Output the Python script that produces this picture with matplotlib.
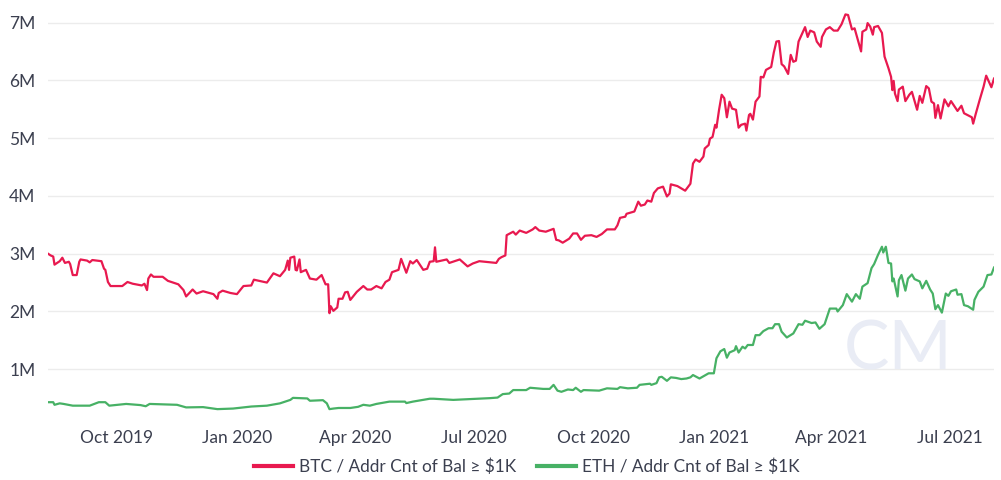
import numpy as np
import pandas as pd
import matplotlib
matplotlib.use("Agg")
import matplotlib.pyplot as plt

plt.rcParams['font.family'] = ['Lato', 'DejaVu Sans']

start = pd.Timestamp("2019-08-09")

# days since start, values in millions
btc_days = [0,2,4,5,9,11,13,16,17,19,22,24,25,30,32,34,41,43,44,46,48,51,57,61,65,72,74,76,77,79,81,88,92,100,104,106,111,114,119,127,130,131,134,140,145,150,156,158,164,168,173,178,182,184,185,186,189,190,191,193,194,198,201,206,210,213,215,216,217,219,222,223,226,228,230,232,237,242,245,248,252,256,259,262,264,269,271,275,278,280,283,288,291,293,296,297,298,306,308,316,322,326,331,344,
            346,348,351,352,357,359,362,367,372,374,377,382,388,390,392,395,400,403,406,409,412,417,421,425,429,435,437,439,443,444,450,453,455,458,460,463,465,468,472,475,477,478,483,
            489,493,495,497,500,503,504,507,508,510,512,513,515,517,519,521,523,525,528,530,532,535,536,538,539,541,543,546,547,549,551,555,557,559,561,563,565,568,570,572,574,576,581,583,585,588,590,593,594,597,600,603,606,609,612,614,617,619,624,625,628,629,631,633,634,637,640,642,645,647,648,649,650,652,653,656,658,661,663,667,669,671,674,676,678,680,681,683,685,688,691,693,698,701,703,709,710,712,715,718,720,724,726]
btc_vals = [3.00,2.97,2.95,2.81,2.87,2.93,2.84,2.86,2.82,2.63,2.63,2.86,2.90,2.88,2.85,2.89,2.87,2.74,2.72,2.51,2.44,2.44,2.44,2.51,2.48,2.45,2.48,2.37,2.57,2.64,2.60,2.60,2.53,2.47,2.37,2.26,2.38,2.31,2.35,2.30,2.22,2.32,2.36,2.32,2.30,2.44,2.45,2.55,2.52,2.50,2.66,2.61,2.72,2.88,2.72,2.93,2.95,2.72,2.71,2.90,2.68,2.72,2.57,2.55,2.63,2.47,2.47,1.97,2.09,2.01,2.07,2.22,2.22,2.33,2.34,2.20,2.34,2.44,2.38,2.38,2.44,2.40,2.51,2.55,2.68,2.72,2.91,2.67,2.87,2.83,2.89,2.72,2.74,2.86,2.87,3.11,2.86,2.90,2.84,2.90,2.78,2.83,2.87,2.84,
            2.91,2.94,2.97,3.32,3.38,3.33,3.40,3.36,3.42,3.46,3.40,3.38,3.43,3.24,3.23,3.19,3.26,3.35,3.35,3.24,3.31,3.32,3.29,3.34,3.42,3.42,3.49,3.62,3.64,3.69,3.73,3.90,3.83,3.85,3.92,3.90,4.05,4.13,4.16,3.99,4.04,4.20,4.17,
            4.09,4.21,4.56,4.63,4.59,4.68,4.82,4.88,4.99,5.02,5.23,5.18,5.49,5.75,5.69,5.36,5.63,5.51,5.49,5.18,5.23,5.25,5.13,5.40,5.42,5.32,5.63,5.72,6.06,6.05,6.18,6.23,6.48,6.67,6.68,6.28,6.24,6.11,6.44,6.32,6.34,6.67,6.92,6.75,6.86,6.83,6.67,6.58,6.75,6.88,6.92,6.86,6.86,6.97,7.14,7.13,6.88,6.90,6.50,6.84,6.88,6.99,6.93,6.79,6.92,6.94,6.82,6.41,6.21,6.06,5.83,5.99,5.77,5.64,5.84,5.89,5.64,5.75,5.80,5.49,5.73,5.61,5.90,5.86,5.63,5.60,5.35,5.57,5.34,5.67,5.55,5.64,5.47,5.56,5.43,5.36,5.25,5.42,5.66,5.89,6.08,5.88,6.03]

eth_days = [0,4,5,9,12,19,32,39,44,47,60,71,75,78,99,106,119,130,142,156,168,178,186,188,199,201,211,214,216,219,223,232,238,242,247,252,262,274,275,280,293,296,311,339,345,349,354,357,367,370,380,385,388,391,394,399,403,405,409,411,423,429,437,439,445,452,454,462,463,467,469,471,475,478,482,486,490,
            493,495,500,507,511,513,516,519,521,523,527,528,530,533,535,537,541,543,546,549,553,556,558,561,563,567,572,576,579,581,586,589,592,596,600,605,606,610,613,617,620,623,625,629,632,634,637,640,641,643,645,647,648,649,652,653,655,658,660,663,665,669,671,674,677,679,681,683,686,689,691,693,697,698,701,703,706,710,711,714,718,721,724,726]
eth_vals = [.43,.43,.385,.41,.40,.37,.37,.43,.43,.37,.40,.38,.36,.40,.385,.34,.345,.31,.32,.355,.37,.41,.47,.505,.495,.455,.465,.41,.31,.32,.33,.33,.35,.385,.37,.40,.44,.44,.415,.44,.49,.49,.47,.50,.51,.57,.58,.64,.64,.68,.66,.66,.73,.63,.61,.65,.64,.68,.61,.64,.63,.67,.66,.69,.67,.68,.73,.75,.73,.76,.86,.87,.80,.86,.85,.83,.84,
            .86,.90,.84,.93,.93,1.19,1.31,1.35,1.20,1.29,1.33,1.40,1.29,1.39,1.36,1.42,1.42,1.59,1.59,1.66,1.71,1.71,1.78,1.78,1.65,1.55,1.62,1.78,1.77,1.84,1.80,1.81,1.70,1.78,2.05,2.05,2.00,2.11,2.30,2.17,2.30,2.22,2.43,2.49,2.75,2.82,2.98,3.12,3.02,3.12,2.84,2.83,2.52,2.57,2.26,2.54,2.63,2.36,2.57,2.64,2.56,2.52,2.40,2.53,2.38,2.31,2.04,2.11,1.98,2.31,2.27,2.35,2.38,2.29,2.30,2.11,2.09,2.03,2.20,2.34,2.43,2.63,2.64,2.76]

y_ticks = [1, 2, 3, 4, 5, 6, 7]
y_labels = ["1M", "2M", "3M", "4M", "5M", "6M", "7M"]
x_ticks = ["2019-10-01", "2020-01-01", "2020-04-01", "2020-07-01", "2020-10-01", "2021-01-01", "2021-04-01", "2021-07-01"]
x_labels = ["Oct 2019", "Jan 2020", "Apr 2020", "Jul 2020", "Oct 2020", "Jan 2021", "Apr 2021", "Jul 2021"]

W, H = 1001, 480
text_col = "#3b3f4f"
red = "#e8194f"
green = "#47b165"

fig = plt.figure(figsize=(W / 100, H / 100), dpi=100)
ax = fig.add_axes([48 / W, 1 - 420 / H, (994 - 48) / W, 415 / H])

btc_dates = start + pd.to_timedelta(btc_days, unit="D")
eth_dates = start + pd.to_timedelta(eth_days, unit="D")
ax.plot(btc_dates, btc_vals, color=red, lw=1.6, label="BTC / Addr Cnt of Bal ≥ $1K", zorder=3)
ax.plot(eth_dates, eth_vals, color=green, lw=1.6, label="ETH / Addr Cnt of Bal ≥ $1K", zorder=3)

ax.set_xlim(start, start + pd.Timedelta(days=726))
ax.set_ylim(0.122, 7.303)
ax.set_yticks(y_ticks, y_labels)
ax.set_xticks(pd.to_datetime(x_ticks), x_labels)
ax.tick_params(axis="both", length=0, labelsize=12.5, labelcolor=text_col)
ax.tick_params(axis="x", pad=7)
ax.tick_params(axis="y", pad=9)
ax.grid(axis="y", color="#ececec", lw=1)
ax.set_axisbelow(True)
for s in ax.spines.values():
    s.set_visible(False)

# watermark
ax.text(898 / W, 1 - 370 / H, "CM", color="#e9ecf5", fontsize=49, ha="center", va="baseline",
        transform=fig.transFigure, zorder=1)

fig.legend(loc="center", bbox_to_anchor=(526.5 / W, 1 - 467 / H), ncol=2, frameon=False,
           fontsize=12.45, labelcolor=text_col, handlelength=2.25, handletextpad=0.35,
           columnspacing=1.23, borderpad=0, borderaxespad=0)
for line in fig.legends[0].get_lines():
    line.set_linewidth(3)

fig.savefig("out.png", dpi=100)
